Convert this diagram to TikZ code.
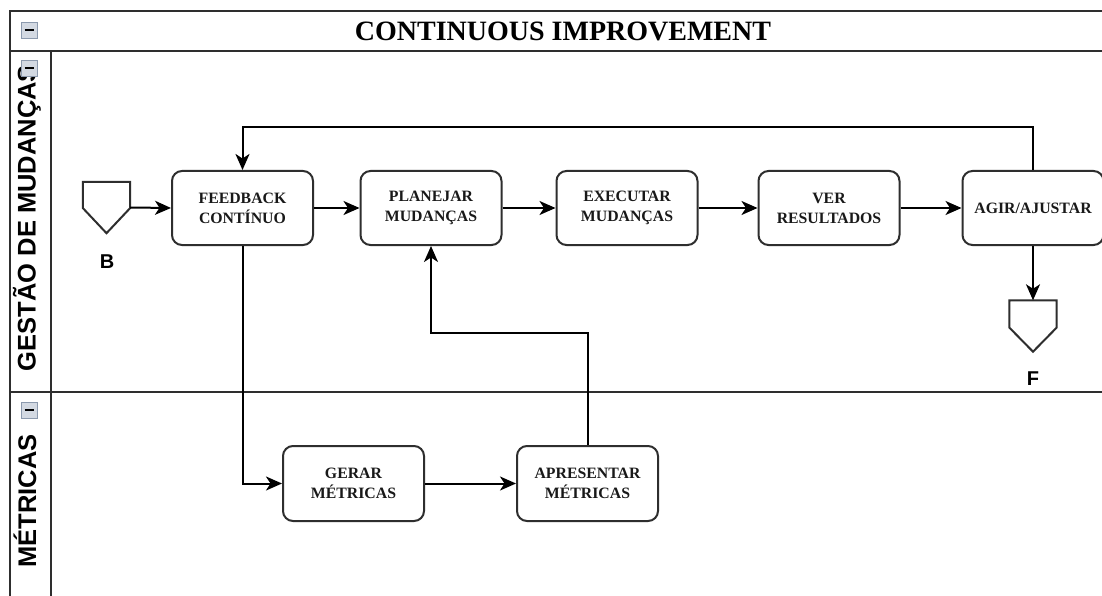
\documentclass[tikz,border=0pt]{standalone}
\usepackage{fontspec}
\setmainfont{Liberation Serif}
\newfontfamily\lanefont{Liberation Sans}
\usetikzlibrary{arrows.meta,calc}

\definecolor{edge}{HTML}{2E2E2E}
\definecolor{iconfill}{HTML}{D3D9E2}
\definecolor{iconline}{HTML}{8C9AAE}

\tikzset{
  poolline/.style={draw=edge, line width=2pt},
  task/.style={draw=edge, line width=2pt, rounded corners=10pt, fill=white,
    minimum width=141pt, minimum height=74pt, inner sep=0pt, align=center,
    font=\fontsize{15.8}{20}\selectfont\bfseries, text=black!90},
  flow/.style={draw=black, line width=2pt,
    -{Stealth[length=16pt,width=14pt,inset=4.5pt]}},
  offpage/.style={minimum width=47pt, minimum height=51pt, inner sep=0pt},
  offshape/.style={draw=edge, line width=2pt, fill=white},
  offlabel/.style={font=\lanefont\fontsize{20}{22}\selectfont\bfseries},
  lanelabel/.style={font=\lanefont\fontsize{25.5}{28}\selectfont\bfseries,
    rotate=90, anchor=base, inner sep=0pt},
  collapse/.style={draw=iconline, fill=iconfill, line width=0.9pt,
    minimum size=16pt, inner sep=0pt,
    path picture={\draw[black, line width=2pt]
      ([xshift=-4.5pt]path picture bounding box.center) --
      ([xshift=4.5pt]path picture bounding box.center);}},
}

\begin{document}
\begin{tikzpicture}[x=1pt,y=-1pt]
\useasboundingbox (0,0) rectangle (1102,596);
\fill[white] (0,0) rectangle (1102,596);
\begin{scope}
\clip (0,0) rectangle (1102,596);

% pool frame, title band and lanes
\draw[poolline] (10,610) -- (10,11) -- (1130,11);
\draw[poolline] (10,51) -- (1130,51);
\draw[poolline] (51,51) -- (51,610);
\draw[poolline] (10,392) -- (1130,392);

\node[font=\fontsize{28}{30}\selectfont\bfseries] (title) at (563,31)
  {CONTINUOUS IMPROVEMENT};

\node[lanelabel] (lane1) at (35.5,218) {GESTÃO DE MUDANÇAS};
\node[lanelabel] (lane2) at (36,501) {MÉTRICAS};

\node[collapse] (ic0) at (29,30) {};
\node[collapse] (ic1) at (29,68) {};
\node[collapse] (ic2) at (29,410) {};

% off-page connectors
\node[offpage] (B) at (106.5,207.5) {};
\draw[offshape] (B.north west) -- (B.north east)
  -- ($(B.north east)!0.51!(B.south east)$) -- (B.south)
  -- ($(B.north west)!0.51!(B.south west)$) -- cycle;
\node[offlabel] (Blab) at (107,262) {B};

\node[offpage] (F) at (1033,326) {};
\draw[offshape] (F.north west) -- (F.north east)
  -- ($(F.north east)!0.53!(F.south east)$) -- (F.south)
  -- ($(F.north west)!0.53!(F.south west)$) -- cycle;
\node[offlabel] (Flab) at (1033,379) {F};

% tasks
\node[task] (FB) at (242.5,208) {FEEDBACK\\CONTÍNUO};
\node[task] (PL) at (431,208) {PLANEJAR\\MUDANÇAS};
\node[task] (EX) at (627,208) {EXECUTAR\\MUDANÇAS};
\node[task] (VR) at (829,208) {VER\\RESULTADOS};
\node[task] (AG) at (1033,208) {AGIR/AJUSTAR};
\node[task, minimum height=75pt] (GE) at (353.5,483.5) {GERAR\\MÉTRICAS};
\node[task, minimum height=75pt] (AP) at (587.5,483.5) {APRESENTAR\\MÉTRICAS};

% sequence flows
\draw[flow] (B.east) -- (FB.west);
\draw[flow] (FB) -- (PL);
\draw[flow] (PL) -- (EX);
\draw[flow] (EX) -- (VR);
\draw[flow] (VR) -- (AG);
\draw[flow] (AG.north) -- ++(0,-43) -| (FB.north);
\draw[flow] (AG.south) -- (F.north);
\draw[flow] (FB.south) |- (GE.west);
\draw[flow] (GE) -- (AP);
\draw[flow] (AP.north) -- ++(0,-112) -| (PL.south);
\end{scope}
\end{tikzpicture}
\end{document}
